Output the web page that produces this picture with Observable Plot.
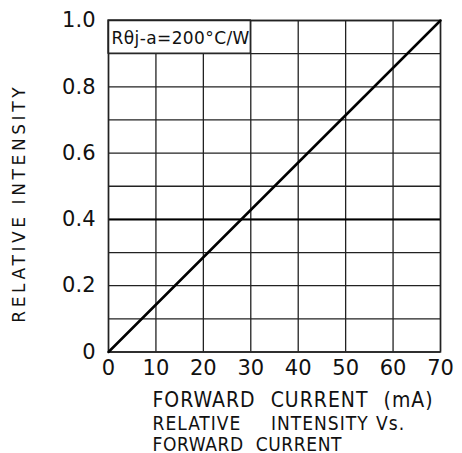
<!DOCTYPE html>
<html>
<head>
<meta charset="utf-8">
<script src="https://cdn.jsdelivr.net/npm/d3@7"></script>
<script src="https://cdn.jsdelivr.net/npm/@observablehq/plot@0.6"></script>
<style>
  html, body { margin: 0; padding: 0; background: #fff; }
  svg { display: block; }
</style>
</head>
<body>
<div id="chart"></div>
<script>
// Data
const current = [0, 70];            // forward current, mA
const intensity = [0, 1.0];         // relative intensity
const xTicks = [0, 10, 20, 30, 40, 50, 60, 70];
const yGrid = [0, 0.1, 0.2, 0.3, 0.4, 0.5, 0.6, 0.7, 0.8, 0.9, 1.0];
const yTicks = [0, 0.2, 0.4, 0.6, 0.8, 1.0];
const boldLevel = [0.4];
const noteBox = [{x1: 0, x2: 30, y1: 0.9, y2: 1.0}];
const noteText = "Rθj-a=200°C/W";
const xLabel = "FORWARD CURRENT (mA)";
const yLabel = "RELATIVE INTENSITY";
const captionLines = ["RELATIVE\u00a0\u00a0\u00a0\u00a0INTENSITY Vs.", "FORWARD CURRENT"];

const curve = current.map((c, i) => ({c, v: intensity[i]}));
const font = "'DejaVu Sans', sans-serif";
const condensed = "'DejaVu Sans Condensed', 'DejaVu Sans', sans-serif";

const chart = Plot.plot({
  width: 462,
  height: 453,
  marginLeft: 108,
  marginRight: 22,
  marginTop: 20,
  marginBottom: 101.5,
  style: {fontFamily: font, color: "#111", background: "#fff", overflow: "visible"},
  x: {domain: [0, 70]},
  y: {domain: [0, 1]},
  marks: [
    Plot.ruleX(xTicks, {stroke: "#222", strokeWidth: 1.3}),
    Plot.ruleY(yGrid, {stroke: "#222", strokeWidth: 1.3}),
    Plot.ruleY(boldLevel, {stroke: "#000", strokeWidth: 2}),
    Plot.rect(noteBox, {x1: "x1", x2: "x2", y1: "y1", y2: "y2", fill: "#fff", stroke: "#222", strokeWidth: 1.3}),
    Plot.text([noteText], {x: 0, y: 1.0, text: d => d, dx: 3, dy: 23, textAnchor: "start", lineAnchor: "bottom", fontSize: 17, fill: "#111"}),
    Plot.frame({stroke: "#222", strokeWidth: 1.5}),
    Plot.line(curve, {x: "c", y: "v", stroke: "#000", strokeWidth: 2.5}),
    Plot.axisX(xTicks, {tickSize: 0, tickPadding: 8, fontSize: 21, label: null, fill: "#111"}),
    Plot.axisY(yTicks, {tickSize: 0, tickPadding: 13, fontSize: 21, label: null, fill: "#111",
      tickFormat: d => d === 0 ? "0" : d.toFixed(1)}),
    Plot.text([xLabel], {frameAnchor: "bottom-left", text: d => d, dx: 44, dy: 54.5, textAnchor: "start", lineAnchor: "bottom", fontSize: 21, fontFamily: condensed, fill: "#111"}),
    Plot.text([captionLines[0]], {frameAnchor: "bottom-left", text: d => d, dx: 44, dy: 77.5, textAnchor: "start", lineAnchor: "bottom", fontSize: 19, fontFamily: condensed, fill: "#111"}),
    Plot.text([captionLines[1]], {frameAnchor: "bottom-left", text: d => d, dx: 44, dy: 98.5, textAnchor: "start", lineAnchor: "bottom", fontSize: 19, fontFamily: condensed, fill: "#111"}),
    Plot.text([yLabel], {frameAnchor: "left", text: d => d, dx: -89, dy: 17, rotate: -90, textAnchor: "middle", lineAnchor: "middle", fontSize: 17, fill: "#111"})
  ]
});
const spacing = new Map([
  [yLabel, ["3.6px", "0px"]],
  [xLabel, ["1px", "8px"]],
  [captionLines[0], ["1px", "1px"]],
  [captionLines[1], ["0.6px", "6px"]],
  [noteText, ["0.4px", "0px"]]
]);
d3.select(chart).selectAll("text").each(function() {
  const s = spacing.get(this.textContent);
  if (s) { this.style.letterSpacing = s[0]; this.style.wordSpacing = s[1]; }
});
document.getElementById("chart").appendChild(chart);
</script>
</body>
</html>
